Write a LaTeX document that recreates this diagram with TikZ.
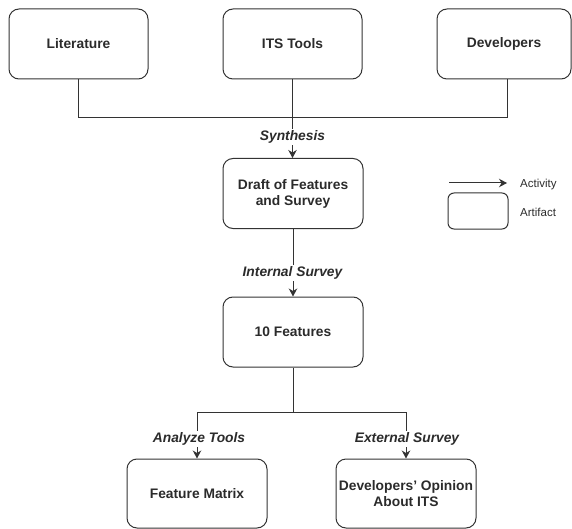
\documentclass[tikz,border=0pt]{standalone}
\usepackage{fontspec}
\setmainfont{Liberation Sans}
\usetikzlibrary{arrows.meta}
\definecolor{ink}{HTML}{2B2B2B}
\definecolor{edge}{HTML}{333333}
\tikzset{
  box/.style={draw=edge, line width=1pt, rounded corners=10pt, minimum width=140pt, minimum height=70pt,
    inner sep=0pt, align=center, text=ink, font=\fontsize{13.8}{16}\selectfont\bfseries},
  conn/.style={draw=edge, line width=1pt},
  arr/.style={conn, -{Stealth[length=8pt,width=8.5pt,inset=2.5pt]}},
  lbl/.style={fill=white, inner sep=1.5pt, text=ink, font=\fontsize{13.8}{16}\selectfont\bfseries\itshape},
  legtext/.style={anchor=west, inner sep=0pt, text=ink, font=\fontsize{11.5}{13}\selectfont}
}
\begin{document}
\begin{tikzpicture}[x=1pt,y=-1pt]
\useasboundingbox (0,0) rectangle (572,529);
% top sources
\node[box, minimum width=139pt] (lit) at (78.5,44) {Literature};
\node[box, minimum width=139pt] (its) at (292.5,44) {ITS Tools};
\node[box, minimum width=134pt] (dev) at (504,44) {Developers};
% artifacts
\node[box] (draft) at (293,193.5) {Draft of Features\\and Survey};
\node[box] (ten) at (293,332) {10 Features};
\node[box, minimum height=69pt] (fm) at (197,493.5) {Feature Matrix};
\node[box, minimum height=69pt] (dop) at (406,493.5) {Developers\char"0027{} Opinion\\About ITS};
% junctions
\coordinate (j1) at (292.5,118);
\coordinate (j2) at (293,412);
% connectors
\draw[conn] (lit.south) |- (j1);
\draw[conn] ([xshift=3pt]dev.south) |- (j1);
\draw[arr] (its.south) -- (its.south |- draft.north);
\draw[arr] (draft.south) -- (ten.north);
\draw[conn] (ten.south) -- (j2);
\draw[arr] (j2) -| (fm.north);
\draw[arr] (j2) -| (dop.north);
% labels
\node[lbl] (lsyn) at (292.5,137) {Synthesis};
\node[lbl] (lint) at (292.5,273) {Internal Survey};
\node[lbl] (lana) at (199,439) {Analyze Tools};
\node[lbl] (lext) at (407,439) {External Survey};
% legend
\coordinate (la1) at (449,183);
\coordinate (la2) at (507,183);
\draw[arr] (la1) -- (la2);
\node[draw=edge, line width=1pt, rounded corners=6pt, minimum width=60pt, minimum height=36pt, inner sep=0pt] (legbox) at (478,211) {};
\node[legtext] (lact) at (520,185) {Activity};
\node[legtext] (lart) at (520,212) {Artifact};
\end{tikzpicture}
\end{document}
